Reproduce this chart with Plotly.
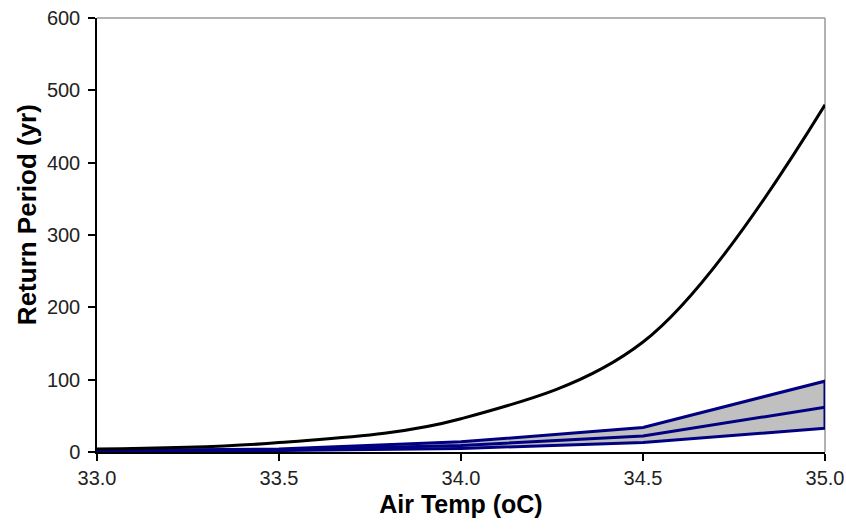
import plotly.graph_objects as go

temps = [33.0, 33.5, 34.0, 34.5, 35.0]
return_period = [4, 13, 46, 152, 480]
upper = [2, 4, 14, 34, 98]
middle = [1.5, 3, 9, 22, 62]
lower = [1, 2, 5, 13, 33]

x_ticks = [33.0, 33.5, 34.0, 34.5, 35.0]
y_ticks = [0, 100, 200, 300, 400, 500, 600]

navy = "#000080"

fig = go.Figure()
fig.add_trace(go.Scatter(
    x=temps + temps[::-1], y=upper + lower[::-1],
    mode="lines", fill="toself", fillcolor="#C0C0C0",
    line=dict(color=navy, width=3), hoverinfo="skip", showlegend=False))
fig.add_trace(go.Scatter(
    x=temps, y=middle, mode="lines",
    line=dict(color=navy, width=3), showlegend=False))
fig.add_trace(go.Scatter(
    x=temps, y=return_period, mode="lines",
    line=dict(color="black", width=3, shape="spline", smoothing=1.0), showlegend=False))

fig.update_layout(
    width=846, height=529,
    margin=dict(l=97, r=21, t=18, b=77),
    paper_bgcolor="white", plot_bgcolor="white",
    font=dict(family="Liberation Sans, Arial, sans-serif", color="black", size=20),
    showlegend=False,
    shapes=[
        dict(type="line", xref="paper", yref="paper", x0=0, x1=1, y0=1, y1=1,
             line=dict(color="#999999", width=1.5), layer="below"),
        dict(type="line", xref="paper", yref="paper", x0=1, x1=1, y0=0, y1=1,
             line=dict(color="#999999", width=1.5), layer="below"),
    ],
    annotations=[
        dict(text="<b>Return Period (yr)</b>", xref="paper", yref="paper",
             x=-0.096, y=0.546, textangle=-90, showarrow=False,
             xanchor="center", yanchor="middle", font=dict(size=26, color="black")),
    ],
)
fig.update_xaxes(
    range=[33.0, 35.0], tickvals=x_ticks, ticktext=[f"{v:.1f}" for v in x_ticks],
    showgrid=False, zeroline=False, showline=True, linecolor="black", linewidth=1.5,
    ticks="outside", ticklen=7, tickcolor="black", tickwidth=1.5,
    tickfont=dict(size=20, color="#222222"), automargin=False,
    title=dict(text="<b>Air Temp (oC)</b>", font=dict(size=25), standoff=8),
)
fig.update_yaxes(
    range=[0, 600], tickvals=y_ticks,
    showgrid=False, zeroline=False, showline=True, linecolor="black", linewidth=1.5,
    ticks="outside", ticklen=7, tickcolor="black", tickwidth=1.5,
    tickfont=dict(size=20, color="#222222"), automargin=False, ticklabelstandoff=4,
)

fig.write_html("out.html", config={"displayModeBar": False},
               post_script="document.body.style.margin='0';document.body.style.overflow='hidden';")
